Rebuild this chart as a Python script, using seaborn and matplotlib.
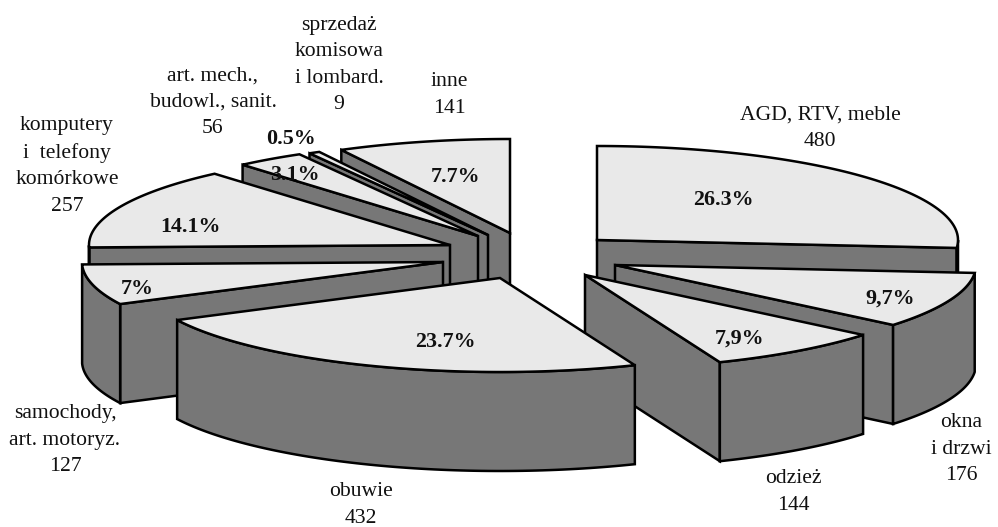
import numpy as np
import matplotlib
matplotlib.use("Agg")
import matplotlib.pyplot as plt
import seaborn as sns

# values, clockwise from 12 o'clock
categories = ["AGD, RTV, meble", "okna\ni drzwi", "odzież", "obuwie",
              "samochody,\nart. motoryz.", "komputery\ni  telefony\nkomórkowe",
              "art. mech.,\nbudowl., sanit.", "sprzedaż\nkomisowa\ni lombard.", "inne"]
values = [480, 176, 144, 432, 127, 257, 56, 9, 141]
pct_labels = ["26.3%", "9,7%", "7,9%", "23.7%", "7%", "14.1%", "3.1%", "0.5%", "7.7%"]

# where the tip of each exploded slice sits (pixels)
tip_x = [597, 615, 585, 500, 443, 450, 478, 488, 510]
tip_y = [240, 265, 275, 278, 262, 245, 236, 235, 233]
# text anchors
name_x = [820, 961, 793, 361, 65, 67, 213, 339, 449]
name_y = [127, 448, 491, 504, 439, 165, 101, 64, 94]
pct_x = [723, 890, 740, 445, 137, 191, 295, 291, 456]
pct_y = [200, 299, 339, 342, 289, 227, 175, 139, 177]

# back slices first so the front ones cover them
draw_order = [8, 7, 6, 5, 0, 1, 4, 2, 3]
RX, RY, DEPTH = 361, 94, 99

sns.set_theme(style="white")
plt.rcParams["font.family"] = ["Liberation Serif", "DejaVu Serif"]
top_col, wall_col = sns.color_palette(["#e9e9e9", "#777777"])

fig = plt.figure(figsize=(9.98, 5.27), dpi=100)
ax = fig.add_axes([0, 0, 1, 1])
ax.set_xlim(0, 998)
ax.set_ylim(527, 0)
ax.axis("off")

edges = 90 - np.concatenate([[0], np.cumsum(values)]) / np.sum(values) * 360


def wall(xs, ys):
    px = np.concatenate([xs, xs[::-1]])
    py = np.concatenate([ys, ys[::-1] + DEPTH])
    ax.fill(px, py, facecolor=wall_col, edgecolor="black", lw=1.8, joinstyle="miter")


for i in draw_order:
    a0, a1 = edges[i], edges[i + 1]  # a0 > a1
    cx, cy = tip_x[i], tip_y[i]
    t = np.radians(np.linspace(a0, a1, 80))
    arc_x = cx + RX * np.cos(t)
    arc_y = cy - RY * np.sin(t)

    # radial walls that face the viewer
    if np.cos(np.radians(a0)) < -1e-6:
        wall(np.array([cx, arc_x[0]]), np.array([cy, arc_y[0]]))
    if np.cos(np.radians(a1)) > 1e-6:
        wall(np.array([cx, arc_x[-1]]), np.array([cy, arc_y[-1]]))
    # outer wall, front half only
    front = np.sin(t) < 0
    if front.any():
        wall(arc_x[front], arc_y[front])

    ax.fill(np.r_[cx, arc_x], np.r_[cy, arc_y], facecolor=top_col,
            edgecolor="black", lw=1.8, joinstyle="miter")

for name, v, x, y in zip(categories, values, name_x, name_y):
    ax.text(x, y + 1, f"{name}\n{v}", ha="center", va="center", fontsize=15.6,
            color="#111111", linespacing=1.53)
for lab, x, y in zip(pct_labels, pct_x, pct_y):
    ax.text(x, y, lab, ha="center", va="center", fontsize=15.8,
            fontweight="bold", color="#111111")

fig.savefig("out.png", dpi=100)
